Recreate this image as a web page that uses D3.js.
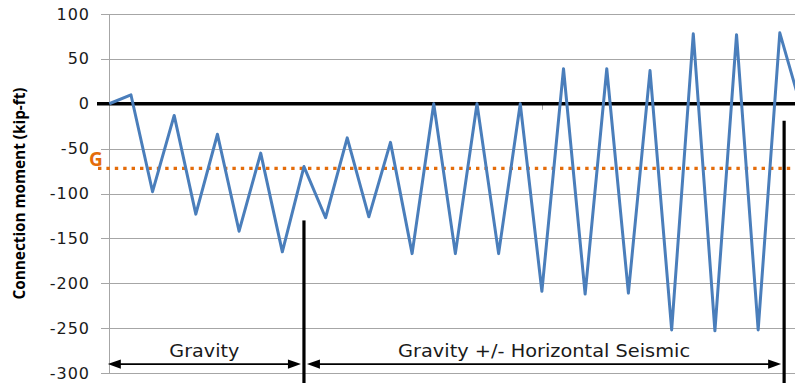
<!DOCTYPE html>
<html>
<head>
<meta charset="utf-8">
<script src="https://cdn.jsdelivr.net/npm/d3@7"></script>
<style>
  html, body { margin: 0; padding: 0; background: #fff; overflow: hidden; }
  svg { display: block; }
</style>
</head>
<body>
<svg id="chart" width="795" height="383"></svg>
<script>
// Load steps (x) and connection moment (kip-ft) at each step
const steps = d3.range(33);
const moment = [0, 10, -98, -13, -123, -34, -142, -55, -165, -70,
                -127, -38, -126, -43, -167, 0, -167, 0, -167, 0,
                -209, 39, -212, 39, -211, 37, -252, 78, -253, 77,
                -252, 79, -5];
const yTicks = [100, 50, 0, -50, -100, -150, -200, -250, -300];
const gravityLevel = -72;          // gravity-only moment, "G"
const phaseBounds = [0, 9, 31.2];  // step where each loading phase begins/ends
const phaseLabels = ["Gravity", "Gravity +/- Horizontal Seismic"];
const dividerTops = [-130, -19];   // top of each phase divider (kip-ft)

const svg = d3.select("#chart");
const W = 795, H = 383;

const x = d3.scaleLinear().domain([0, 31]).range([109.3, 779.8]);
const y = d3.scaleLinear().domain([-300, 100]).range([373, 14]);

const gridCol = "#a6a6a6";
const blue = "#4a7ebb";
const orange = "#e46c0a";

// horizontal gridlines with short outer ticks
svg.append("g").selectAll("line").data(yTicks).join("line")
  .attr("x1", 101).attr("x2", W)
  .attr("y1", d => Math.round(y(d)) + 0.5).attr("y2", d => Math.round(y(d)) + 0.5)
  .attr("stroke", gridCol).attr("stroke-width", 1);

// value axis line
svg.append("line")
  .attr("x1", Math.round(x(0)) + 0.5).attr("x2", Math.round(x(0)) + 0.5)
  .attr("y1", y(100)).attr("y2", y(-300))
  .attr("stroke", gridCol).attr("stroke-width", 1);

// tick labels
svg.append("g").selectAll("text").data(yTicks).join("text")
  .attr("x", 90).attr("y", d => y(d))
  .attr("text-anchor", "end").attr("dominant-baseline", "central")
  .attr("font-family", "DejaVu Sans, Verdana, sans-serif")
  .attr("font-size", 16).attr("letter-spacing", 1)
  .attr("fill", "#1a1a1a")
  .text(d => d);

// axis title
svg.append("text")
  .attr("transform", `translate(${25},${y(-100)}) rotate(-90)`)
  .attr("text-anchor", "middle")
  .attr("font-family", "Open Sans, sans-serif").attr("font-weight", 700)
  .attr("font-size", 16).attr("fill", "#000")
  .attr("textLength", 212).attr("lengthAdjust", "spacingAndGlyphs")
  .text("Connection moment (kip-ft)");

// small category tick on the zero line
svg.append("line")
  .attr("x1", Math.round(x(20)) + 0.5).attr("x2", Math.round(x(20)) + 0.5)
  .attr("y1", y(0)).attr("y2", y(0) + 6)
  .attr("stroke", gridCol).attr("stroke-width", 1);

// zero line
svg.append("line")
  .attr("x1", 97).attr("x2", W)
  .attr("y1", y(0)).attr("y2", y(0))
  .attr("stroke", "#000").attr("stroke-width", 3.3);

// gravity level
svg.append("line")
  .attr("x1", 98).attr("x2", W)
  .attr("y1", y(gravityLevel)).attr("y2", y(gravityLevel))
  .attr("stroke", orange).attr("stroke-width", 3.4)
  .attr("stroke-dasharray", "3.4,5");
svg.append("text")
  .attr("x", 89).attr("y", y(gravityLevel) - 2)
  .attr("font-family", "Open Sans, sans-serif").attr("font-weight", 700)
  .attr("font-size", 19).attr("fill", orange)
  .text("G");

// moment history
const line = d3.line().x((d, i) => x(steps[i])).y(d => y(d));
svg.append("path")
  .datum(moment)
  .attr("d", line)
  .attr("fill", "none").attr("stroke", blue)
  .attr("stroke-width", 3).attr("stroke-linejoin", "round");

// phase dividers
phaseBounds.slice(1).forEach((b, i) => {
  svg.append("line")
    .attr("x1", x(b)).attr("x2", x(b))
    .attr("y1", y(dividerTops[i])).attr("y2", H)
    .attr("stroke", "#000").attr("stroke-width", 3.2);
});

// phase arrows and labels
const arrowY = y(-290);
function arrowHead(tipX, dir) {
  const L = 13, h = 4.6;
  return `M${tipX},${arrowY} L${tipX - dir * L},${arrowY - h} L${tipX - dir * L},${arrowY + h} Z`;
}
phaseLabels.forEach((lab, i) => {
  const x0 = x(phaseBounds[i]) + (i === 0 ? -1.5 : 3);
  const x1 = x(phaseBounds[i + 1]) - 3;
  svg.append("line")
    .attr("x1", x0 + 6).attr("x2", x1 - 6)
    .attr("y1", arrowY).attr("y2", arrowY)
    .attr("stroke", "#000").attr("stroke-width", 1.8);
  svg.append("path").attr("d", arrowHead(x0, -1)).attr("fill", "#000");
  svg.append("path").attr("d", arrowHead(x1, 1)).attr("fill", "#000");
  svg.append("text")
    .attr("x", (x0 + x1) / 2).attr("y", y(-282))
    .attr("text-anchor", "middle")
    .attr("font-family", "DejaVu Sans, Verdana, sans-serif")
    .attr("font-size", 17).attr("fill", "#1a1a1a")
    .attr("textLength", i === 0 ? 70 : 292).attr("lengthAdjust", "spacingAndGlyphs")
    .text(lab);
});
</script>
</body>
</html>
